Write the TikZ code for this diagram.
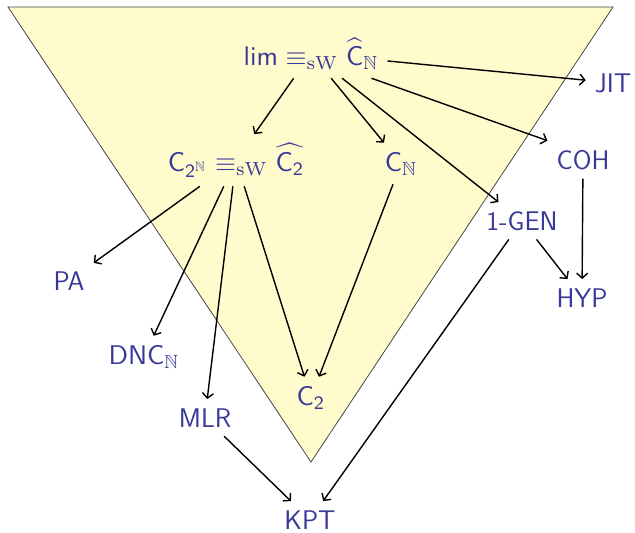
\documentclass[tikz,border=0pt]{standalone}
\usepackage{amsmath,amssymb,graphicx}
\usetikzlibrary{arrows.meta}
\definecolor{txtc}{RGB}{56,56,152}
\definecolor{trifill}{RGB}{255,251,204}
\definecolor{triline}{RGB}{70,70,70}
\newcommand{\sfc}[1]{\text{\sffamily #1}}
\newcommand{\mth}[1]{\scalebox{2.7}{\fontsize{10}{12}\selectfont$#1$}}
\begin{document}
\begin{tikzpicture}[x=1pt,y=-1pt,
  lbl/.style={text=txtc, inner sep=9pt, anchor=base, font=\sffamily\fontsize{27}{32}\selectfont},
  arr/.style={-{Straight Barb[length=5pt,width=11pt]}, line width=1.4pt, black}]
\useasboundingbox (0,0) rectangle (635,533);
\filldraw[fill=trifill, draw=triline, line width=0.8pt] (8,7) -- (613,7) -- (311,462) -- cycle;

\node[lbl] (lim) at (311,65) {\mth{\sfc{lim}\equiv_{\mathrm{sW}}\widehat{\sfc{C}}_{\mathbb{N}}}};
\node[lbl] (c2n) at (236,171) {\mth{\sfc{C}_{\sfc{2}^{\mathbb{N}}}\equiv_{\mathrm{sW}}\widehat{\sfc{C}_{\sfc{2}}}}};
\node[lbl] (cn) at (401,171) {\mth{\sfc{C}_{\mathbb{N}}}};
\node[lbl] (coh) at (583,169) {COH};
\node[lbl] (jit) at (613,92) {JIT};
\node[lbl] (gen) at (522,230) {1-GEN};
\node[lbl] (pa) at (69,290) {PA};
\node[lbl] (hyp) at (582,307) {HYP};
\node[lbl] (dnc) at (144,364) {\mth{\sfc{DNC}_{\mathbb{N}}}};
\node[lbl] (mlr) at (205,427) {MLR};
\node[lbl] (c2) at (311,405) {\mth{\sfc{C}_{\sfc{2}}}};
\node[lbl] (kpt) at (310,529) {KPT};

\draw[arr] (lim) -- (jit);
\draw[arr] (lim) -- (c2n);
\draw[arr] (lim) -- (cn);
\draw[arr] (lim) -- (gen);
\draw[arr] ([xshift=-16pt]lim.south east) -- (coh.north west);
\draw[arr] (c2n) -- (pa);
\draw[arr] (c2n) -- (dnc);
\draw[arr] (c2n) -- (mlr);
\draw[arr] (c2n) -- (c2);
\draw[arr] (cn) -- (c2);
\draw[arr] (coh) -- (hyp);
\draw[arr] (gen) -- (hyp);
\draw[arr] (gen) -- (kpt);
\draw[arr] (mlr) -- (kpt);
\end{tikzpicture}
\end{document}
